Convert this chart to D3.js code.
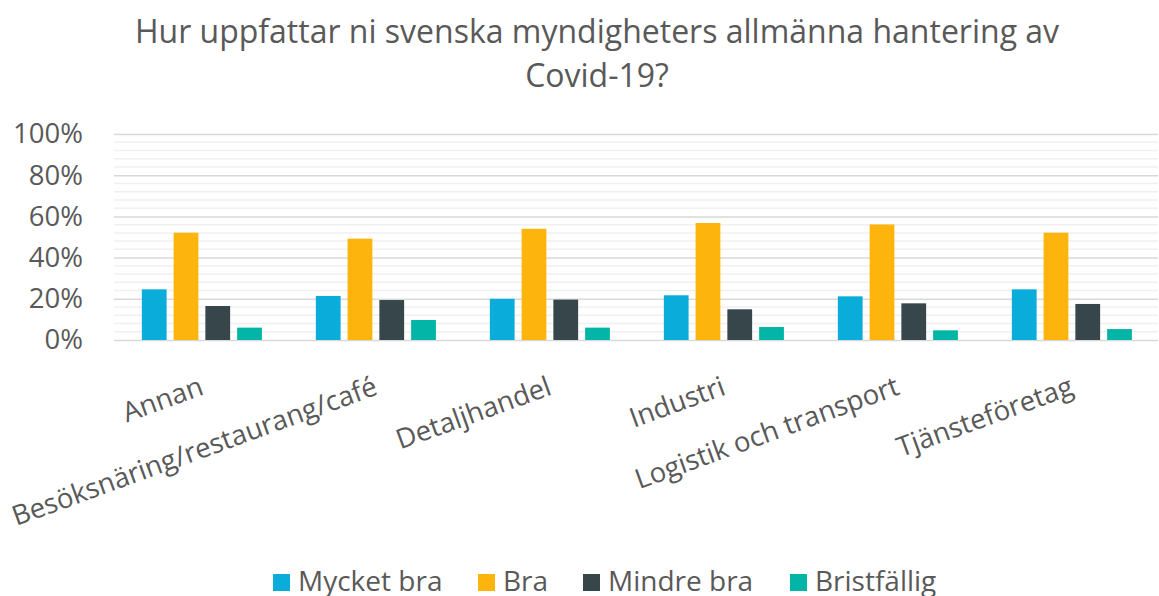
<!DOCTYPE html>
<html>
<head>
<meta charset="utf-8">
<script src="https://cdn.jsdelivr.net/npm/d3@7"></script>
<style>
  body { margin: 0; background: #fff; }
  text { font-family: "Open Sans", sans-serif; fill: #595959; }
</style>
</head>
<body>
<svg id="chart" width="1159" height="596"></svg>
<script>
// data
var categories = ["Annan", "Besöksnäring/restaurang/café", "Detaljhandel", "Industri", "Logistik och transport", "Tjänsteföretag"];
var seriesNames = ["Mycket bra", "Bra", "Mindre bra", "Bristfällig"];
var mycketBra  = [24.6, 21.4, 20.0, 21.7, 21.2, 24.6];
var bra        = [52.1, 49.2, 54.0, 56.8, 56.1, 52.1];
var mindreBra  = [16.5, 19.4, 19.6, 14.9, 17.8, 17.5];
var bristfallig = [6.0, 9.7, 6.0, 6.3, 4.7, 5.3];
var yTicks = [0, 20, 40, 60, 80, 100];
var colors = ["#0aacda", "#fdb40c", "#36464b", "#02b5a6"];

(function() {
var values = [mycketBra, bra, mindreBra, bristfallig];

var svg = d3.select("#chart");
var plotLeft = 114, plotRight = 1158, plotTop = 134, plotBottom = 340;

var x0 = d3.scaleBand().domain(categories).range([plotLeft, plotRight]);
var x1 = d3.scaleBand().domain(seriesNames)
    .range([x0.bandwidth() * 0.16, x0.bandwidth() * 0.85])
    .paddingInner(0.22);
var y = d3.scaleLinear().domain([0, 100]).range([plotBottom, plotTop]);

// minor grid every 4%
var minor = d3.range(0, 101, 4).filter(function(v) { return v % 20 != 0 });
svg.append("g").selectAll("line.minor")
    .data(minor)
  .enter().append("line")
    .attr("x1", plotLeft).attr("x2", plotRight)
    .attr("y1", function(d) { return y(d) }).attr("y2", function(d) { return y(d) })
    .attr("stroke", "#f0f0f0").attr("stroke-width", 1.5);

// major grid + y labels
var yAxis = d3.axisLeft(y).tickValues(yTicks)
    .tickSize(-(plotRight - plotLeft)).tickPadding(31)
    .tickFormat(function(d) { return d + "%" });
var ya = svg.append("g").attr("transform", "translate(" + plotLeft + ",0)").call(yAxis);
ya.select(".domain").remove();
ya.selectAll(".tick line").attr("stroke", "#d9d9d9").attr("stroke-width", 1.5);
ya.selectAll(".tick text").attr("font-size", 27.5).style("font-family", "Open Sans").attr("fill", "#595959");

// bars
var groups = svg.append("g").selectAll("g.cat")
    .data(categories)
  .enter().append("g")
    .attr("class", "cat")
    .attr("transform", function(d) { return "translate(" + x0(d) + ",0)" });

groups.selectAll("rect")
    .data(function(d, ci) {
        return seriesNames.map(function(s, si) { return { s: s, v: values[si][ci], i: si } });
    })
  .enter().append("rect")
    .attr("x", function(d) { return x1(d.s) })
    .attr("width", x1.bandwidth())
    .attr("y", function(d) { return y(d.v) })
    .attr("height", function(d) { return y(0) - y(d.v) })
    .attr("fill", function(d) { return colors[d.i] });

// x labels, rotated
svg.append("g").selectAll("text.xl")
    .data(categories)
  .enter().append("text")
    .attr("class", "xl")
    .attr("text-anchor", "end")
    .attr("font-size", 27.5)
    .attr("transform", function(d) {
        return "translate(" + (x0(d) + x0.bandwidth() / 2 + 4) + ",394) rotate(-20)";
    })
    .text(function(d) { return d });

// title
var title = svg.append("text")
    .attr("text-anchor", "middle")
    .attr("font-size", 32);
title.append("tspan").attr("x", 597).attr("y", 43).text("Hur uppfattar ni svenska myndigheters allmänna hantering av");
title.append("tspan").attr("x", 597).attr("y", 87).text("Covid-19?");

// legend
var legendX = [273, 478, 583, 790];
var lg = svg.append("g").selectAll("g.leg")
    .data(seriesNames)
  .enter().append("g")
    .attr("transform", function(d, i) { return "translate(" + legendX[i] + ",0)" });
lg.append("rect").attr("x", 0).attr("y", 574).attr("width", 17).attr("height", 17)
    .attr("fill", function(d, i) { return colors[i] });
lg.append("text").attr("x", 25).attr("y", 591).attr("font-size", 28)
    .text(function(d) { return d });
})();
</script>
</body>
</html>
